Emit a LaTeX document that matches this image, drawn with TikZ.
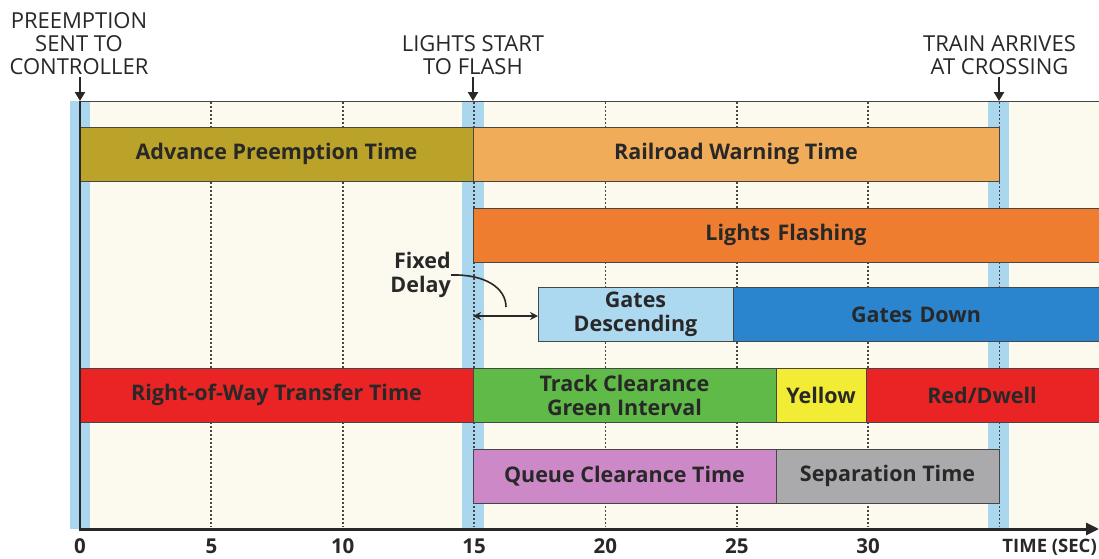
\documentclass[tikz,border=0pt]{standalone}
\usepackage{fontspec}
\setmainfont{Open Sans}
\usetikzlibrary{arrows.meta}
\definecolor{txt}{RGB}{40,40,40}
\definecolor{cream}{RGB}{252,249,238}
\definecolor{band}{RGB}{170,215,238}
\definecolor{olivebar}{RGB}{186,163,40}
\definecolor{ltorange}{RGB}{240,172,88}
\definecolor{orangebar}{RGB}{238,125,48}
\definecolor{ltblue}{RGB}{172,216,240}
\definecolor{bluebar}{RGB}{42,132,206}
\definecolor{redbar}{RGB}{234,36,36}
\definecolor{greenbar}{RGB}{96,186,72}
\definecolor{yellowbar}{RGB}{242,236,52}
\definecolor{orchidbar}{RGB}{205,136,200}
\definecolor{graybar}{RGB}{170,170,172}
\definecolor{outline}{RGB}{70,70,70}
\begin{document}
\begin{tikzpicture}[x=1pt,y=-1pt,
  barbox/.style={draw=outline, line width=0.9pt, rectangle, inner sep=0pt, outer sep=0pt,
    minimum height=54pt, text=txt, font=\fontsize{21.5}{24}\selectfont\bfseries, align=center},
  toplabel/.style={text=txt, font=\fontsize{22}{23}\selectfont, align=center, inner sep=0pt},
  ticklabel/.style={text=txt, font=\fontsize{20.5}{22}\selectfont\bfseries, inner sep=0pt},
  gridline/.style={draw=outline, line width=1.8pt, dash pattern=on 1.8pt off 2.2pt},
  downarrow/.style={draw=txt, line width=2.6pt, -{Triangle[length=9pt,width=10pt]}},
  delayarrow/.style={draw=txt, line width=1.6pt, {Stealth[length=8pt,width=8pt]}-{Stealth[length=8pt,width=8pt]}},
]
\useasboundingbox (0,0) rectangle (1099,558);
\fill[white] (0,0) rectangle (1099,558);
% plot background
\fill[cream] (80,101) rectangle (1099,529);
% blue bands
\fill[band] (70,101) rectangle (90,529);
\fill[band] (462,101) rectangle (484,529);
\fill[band] (988,101) rectangle (1009,529);
% dotted grid lines
\foreach \t in {5,10,15,20,25,30,35}{
  \draw[gridline] ({80+26.27*\t},102) -- ({80+26.27*\t},527);
}
% top frame line
\draw[outline, line width=0.9pt] (80,101) -- (1099,101);

% bars row 1
\node[barbox, fill=olivebar, minimum width=393pt] (apt) at (276.5,154) {Advance Preemption Time};
\node[barbox, fill=ltorange, minimum width=526pt] (rwt) at (736,154) {Railroad Warning Time};
% row 2
\node[barbox, fill=orangebar, minimum width=640pt, text width=626pt] (lf) at (793,235) {Lights Flashing\hspace*{14pt}};
% row 3
\node[barbox, fill=ltblue, minimum width=195pt, text width=190pt] (gd) at (635.5,314.5) {Gates\\Descending};
\node[barbox, fill=bluebar, minimum width=372pt, text width=360pt] (gdown) at (919,314.5) {Gates Down\hspace*{6pt}};
% row 4
\node[barbox, fill=redbar, minimum width=393pt] (row) at (276.5,395) {Right-of-Way Transfer Time};
\node[barbox, fill=greenbar, minimum width=303pt] (tc) at (624.5,395) {Track Clearance\\Green Interval};
\node[barbox, fill=yellowbar, minimum width=90pt] (yel) at (821,395) {Yellow};
\node[barbox, fill=redbar, minimum width=240pt, text width=230pt] (rd) at (986,395) {Red/Dwell\hspace*{8pt}};
% row 5
\node[barbox, fill=orchidbar, minimum width=303pt] (qc) at (624.5,476) {Queue Clearance Time};
\node[barbox, fill=graybar, minimum width=223pt] (sep) at (887.5,476) {Separation Time};

% fixed delay
\node[text=txt, font=\fontsize{21.5}{24}\selectfont\bfseries, align=right, inner sep=0pt, anchor=east] (fd) at (451,275) {Fixed\\Delay};
\coordinate (fdstart) at (473,316);
\coordinate (curveend) at (506,307);
\draw[delayarrow] (fdstart) -- (gd.west |- fdstart);
\draw[txt, line width=1.6pt] (fd.east) .. controls (485,274) and (506,288) .. (curveend);

% axes
\draw[txt, line width=1.6pt] (80,101) -- (80,529);
\coordinate (origin) at (79,529);
\coordinate (axisend) at (1099,529);
\draw[txt, line width=3pt, -{Triangle[length=13pt,width=12pt]}] (origin) -- (axisend);

% top labels and arrows
\node[toplabel] (pre) at (79,44) {PREEMPTION\\SENT TO\\CONTROLLER};
\node[toplabel] (lsf) at (473,55) {LIGHTS START\\TO FLASH};
\node[toplabel] (tac) at (999.5,55) {TRAIN ARRIVES\\AT CROSSING};
\coordinate (a0) at (80,101);
\coordinate (a15) at (473,101);
\coordinate (a35) at (999,101);
\draw[downarrow] (80,77) -- (a0);
\draw[downarrow] (473,77) -- (a15);
\draw[downarrow] (999,77) -- (a35);

% tick labels
\foreach \t in {0,5,10,15,20,25,30}{
  \node[ticklabel, anchor=base] (tick\t) at ({80+26.27*\t},553) {\t};
}
\node[ticklabel, font=\fontsize{18.5}{20}\selectfont\bfseries, anchor=base east] (tlabel) at (1097,552) {TIME (SEC)};
\end{tikzpicture}
\end{document}
